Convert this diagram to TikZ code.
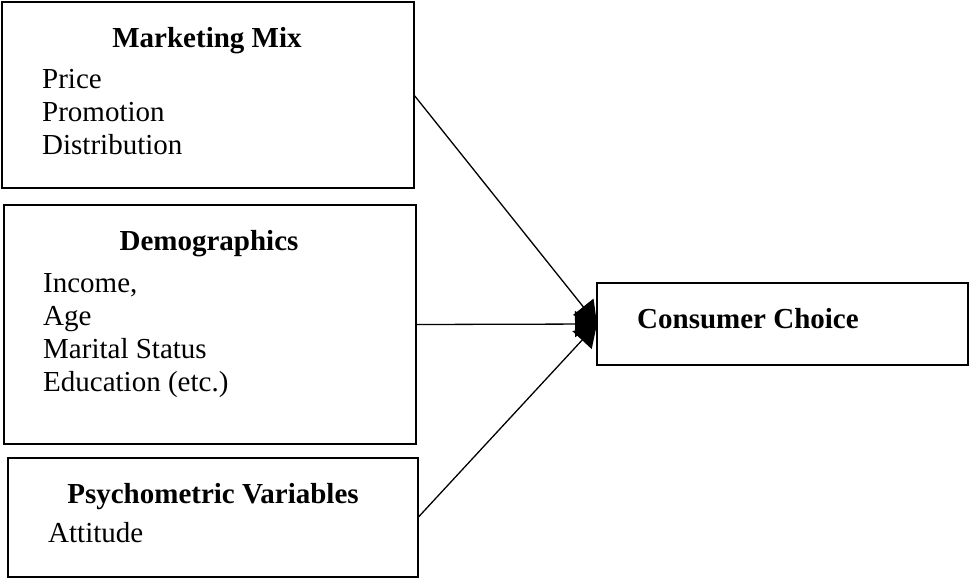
\documentclass[tikz,border=0pt]{standalone}
\usepackage{fontspec}
\setmainfont{Liberation Serif}
\usetikzlibrary{arrows.meta}

\tikzset{
  factorbox/.style={draw, line width=1.6pt, inner sep=0pt, outer sep=0pt},
  heading/.style={inner sep=0pt, anchor=base, font=\fontsize{29}{34}\selectfont\bfseries},
  item/.style={inner sep=0pt, anchor=base west, font=\fontsize{29}{34}\selectfont},
  link/.style={line width=1.3pt, -{Triangle[length=22pt,width=26pt]}}
}

\begin{document}
\begin{tikzpicture}[x=1pt, y=-1pt]
  \useasboundingbox (0,0) rectangle (974,579);

  % factor boxes on the left
  \node[factorbox, minimum width=412pt, minimum height=186pt] (mix) at (208,95) {};
  \node[factorbox, minimum width=412pt, minimum height=239pt] (demo) at (210,324.5) {};
  \node[factorbox, minimum width=410pt, minimum height=119pt] (psych) at (213,517.5) {};

  % outcome box
  \node[factorbox, minimum width=371pt, minimum height=82pt] (choice) at (782.5,324) {};

  % Marketing Mix
  \node[heading] (mixtitle) at (207,47) {Marketing Mix};
  \node[item] (price) at (42,88) {Price};
  \node[item] (promo) at (42,121) {Promotion};
  \node[item] (distr) at (42,154) {Distribution};

  % Demographics
  \node[heading] (demotitle) at (209,250) {Demographics};
  \node[item] (income) at (43,292) {Income,};
  \node[item] (age) at (43,325) {Age};
  \node[item] (marital) at (43,358) {Marital Status};
  \node[item] (educ) at (43,391) {Education (etc.)};

  % Psychometric Variables
  \node[heading] (psychtitle) at (213,503) {Psychometric Variables};
  \node[item] (attitude) at (48,542) {Attitude};

  % Consumer Choice
  \node[heading, anchor=base west] (choicetitle) at (637,328) {Consumer Choice};

  % influences
  \draw[link] (mix.east) -- (choice.west);
  \draw[link] (demo.east) -- (choice.west);
  \draw[link] (psych.east) -- (choice.west);
\end{tikzpicture}
\end{document}
